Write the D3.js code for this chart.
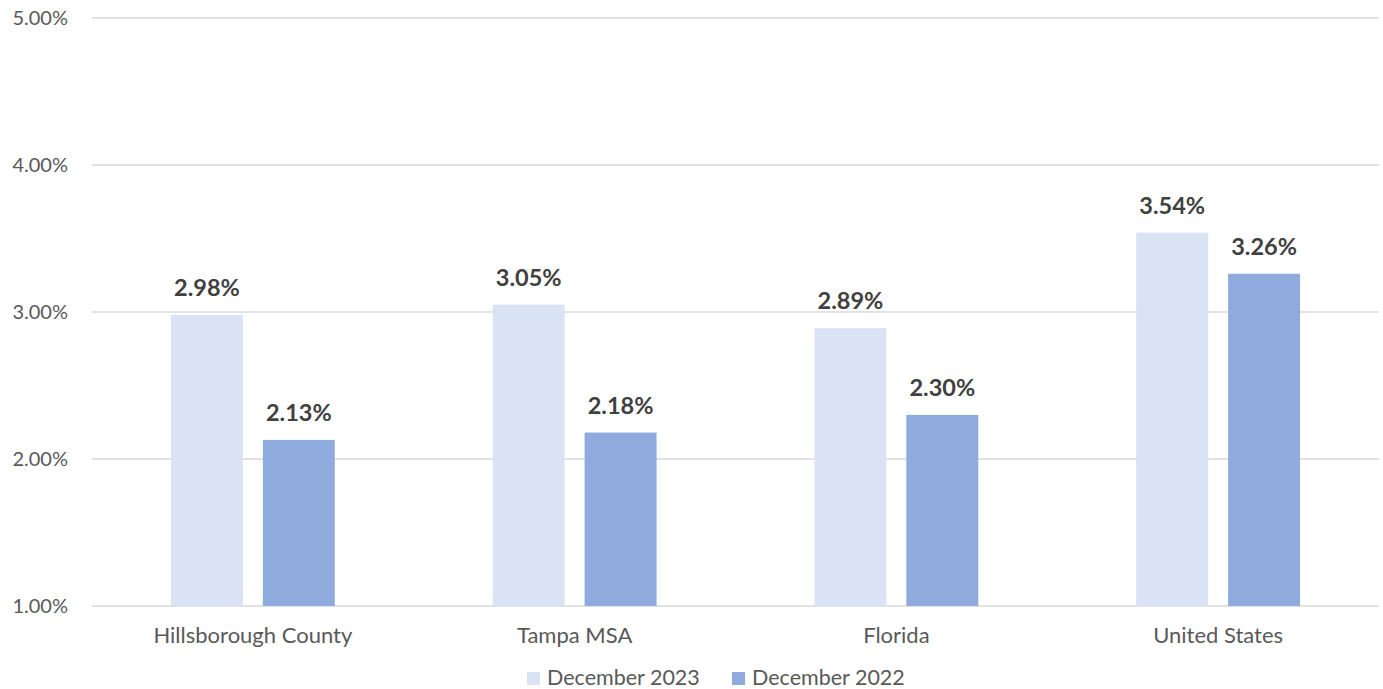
<!DOCTYPE html>
<html>
<head>
<meta charset="utf-8">
<script src="https://cdn.jsdelivr.net/npm/d3@7"></script>
<style>
  body { margin: 0; background: #fff; }
  text { font-family: Lato, "Open Sans", sans-serif; }
</style>
</head>
<body>
<div id="chart"></div>
<script>
var categories = ['Hillsborough County', 'Tampa MSA', 'Florida', 'United States'];
var seriesNames = ['December 2023', 'December 2022'];
var dec2023 = [2.98, 3.05, 2.89, 3.54];
var dec2022 = [2.13, 2.18, 2.30, 3.26];
var yTicks = [1, 2, 3, 4, 5];
var colors = ['#DAE3F3', '#8FAADC'];

var width = 1383, height = 689;
var margin = {top: 18, right: 4, bottom: 83, left: 92};

var svg = d3.select('#chart').append('svg')
    .attr('width', width)
    .attr('height', height);

var x = d3.scaleBand()
    .domain(categories)
    .range([margin.left, width - margin.right])
    .paddingInner(0)
    .paddingOuter(0);

var x1 = d3.scaleBand()
    .domain(seriesNames)
    .range([0, x.bandwidth()])
    .paddingInner(0.217)
    .paddingOuter(0.859);

var y = d3.scaleLinear()
    .domain([1, 5])
    .range([height - margin.bottom, margin.top]);

// gridlines
svg.append('g')
    .selectAll('line')
    .data(yTicks)
    .enter().append('line')
    .attr('x1', margin.left)
    .attr('x2', width - margin.right)
    .attr('y1', function (d) { return y(d); })
    .attr('y2', function (d) { return y(d); })
    .attr('stroke', '#d9d9d9')
    .attr('stroke-width', 1.3);

// y labels
svg.append('g')
    .selectAll('text')
    .data(yTicks)
    .enter().append('text')
    .attr('x', 68)
    .attr('y', function (d) { return y(d); })
    .attr('dy', '0.35em')
    .attr('text-anchor', 'end')
    .attr('fill', '#595959')
    .style('font-size', '20px')
    .text(function (d) { return d.toFixed(2) + '%'; });

var rows = categories.map(function (c, i) {
    return {cat: c, vals: [dec2023[i], dec2022[i]]};
});

var groups = svg.selectAll('.grp')
    .data(rows)
    .enter().append('g')
    .attr('class', 'grp')
    .attr('transform', function (d) { return 'translate(' + x(d.cat) + ',0)'; });

groups.selectAll('rect')
    .data(function (d) { return d.vals.map(function (v, j) { return {name: seriesNames[j], v: v, j: j}; }); })
    .enter().append('rect')
    .attr('x', function (d) { return x1(d.name); })
    .attr('y', function (d) { return y(d.v); })
    .attr('width', x1.bandwidth())
    .attr('height', function (d) { return y(1) - y(d.v); })
    .attr('fill', function (d) { return colors[d.j]; });

groups.selectAll('.lbl')
    .data(function (d) { return d.vals.map(function (v, j) { return {name: seriesNames[j], v: v}; }); })
    .enter().append('text')
    .attr('class', 'lbl')
    .attr('x', function (d) { return x1(d.name) + x1.bandwidth() / 2; })
    .attr('y', function (d) { return y(d.v) - 19; })
    .attr('text-anchor', 'middle')
    .attr('fill', '#404040')
    .style('font-size', '23.5px')
    .style('font-weight', 'bold')
    .text(function (d) { return d.v.toFixed(2) + '%'; });

// category labels
svg.append('g')
    .selectAll('text')
    .data(categories)
    .enter().append('text')
    .attr('x', function (d) { return x(d) + x.bandwidth() / 2; })
    .attr('y', 643)
    .attr('text-anchor', 'middle')
    .attr('fill', '#595959')
    .style('font-size', '22px')
    .text(function (d) { return d; });

// legend
var legendX = [527, 732];
var legend = svg.append('g');
seriesNames.forEach(function (s, i) {
    legend.append('rect')
        .attr('x', legendX[i])
        .attr('y', 672)
        .attr('width', 13)
        .attr('height', 13)
        .attr('fill', colors[i]);
    legend.append('text')
        .attr('x', legendX[i] + 20)
        .attr('y', 685)
        .attr('fill', '#595959')
        .style('font-size', '21.5px')
        .text(s);
});
</script>
</body>
</html>
